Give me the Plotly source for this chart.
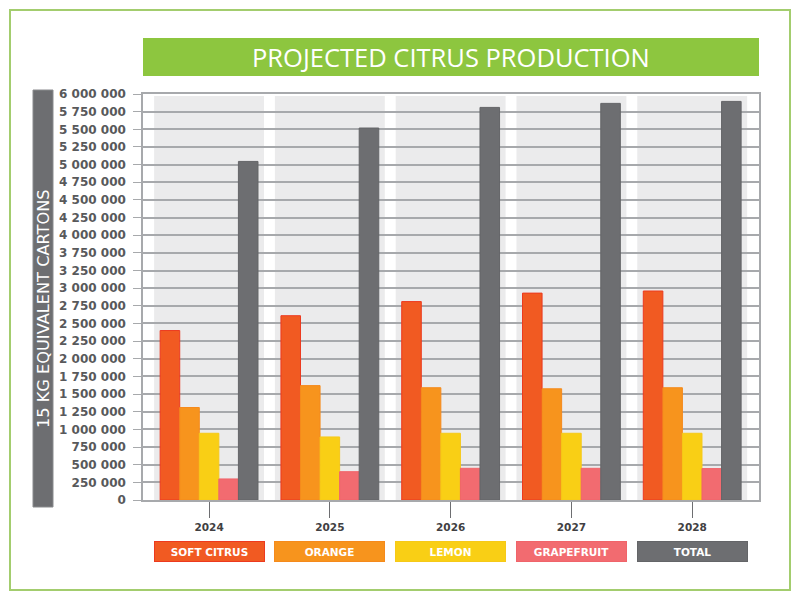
import plotly.graph_objects as go

# data (heights in the chart's own linear grid units)
years = ["2024", "2025", "2026", "2027", "2028"]
soft_citrus = [2400000, 2610000, 2810000, 2930000, 2960000]
orange = [1310000, 1620000, 1590000, 1575000, 1590000]
lemon = [945000, 893000, 945000, 945000, 945000]
grapefruit = [298000, 401000, 449000, 449000, 445000]
total = [4795000, 5268000, 5560000, 5617000, 5645000]

series_names = ["SOFT CITRUS", "ORANGE", "LEMON", "GRAPEFRUIT", "TOTAL"]
series_colors = ["#f15a22", "#f7941d", "#f9cf15", "#f26b70", "#6d6e71"]
series_lines = ["#ec3a1f", "#f58a1c", "#f6c918", "#f0646a", "#646568"]

# the printed axis labels (the source skips 3 500 000)
y_tick_text = ["0", "250 000", "500 000", "750 000", "1 000 000", "1 250 000",
               "1 500 000", "1 750 000", "2 000 000", "2 250 000", "2 500 000",
               "2 750 000", "3 000 000", "3 250 000", "3 750 000", "4 000 000",
               "4 250 000", "4 500 000", "4 750 000", "5 000 000", "5 250 000",
               "5 500 000", "5 750 000", "6 000 000"]
y_tick_vals = [i * 250000 for i in range(len(y_tick_text))]

title_text = "PROJECTED CITRUS PRODUCTION"
y_title = "15 KG EQUIVALENT CARTONS"

# plot area in pixels
PL, PR, PT, PB = 143, 759, 94, 500


def px_x(px):
    return (px - PL) / (PR - PL)


def px_y(py):
    return (PB - py) / (PB - PT)


fig = go.Figure()
all_vals = [soft_citrus, orange, lemon, grapefruit, total]
for name, vals, col, lcol in zip(series_names, all_vals, series_colors, series_lines):
    fig.add_trace(go.Bar(
        x=years, y=vals, name=name,
        marker=dict(color=col, line=dict(color=lcol, width=1)),
        showlegend=False,
    ))

shapes = []
annotations = []
# light grey category bands
for i in range(len(years)):
    shapes.append(dict(type="rect", xref="x", yref="paper", x0=i - 0.455, x1=i + 0.455,
                       y0=0, y1=0.995, fillcolor="#ebebec", line_width=0, layer="below"))
    # dot at the end of each x tick
    shapes.append(dict(type="circle", xref="x", yref="y", xsizemode="pixel", ysizemode="pixel",
                       xanchor=i, yanchor=0, x0=-2.5, x1=2.5, y0=-19, y1=-14,
                       fillcolor="#58595b", line_width=0))
    # legend boxes under each year
    annotations.append(dict(xref="x", yref="paper", x=i, y=px_y(551.5), text="<b>%s</b>" % series_names[i],
                            showarrow=False, width=109, height=19, bgcolor=series_colors[i],
                            bordercolor=series_lines[i], borderwidth=1, borderpad=0,
                            font=dict(family="DejaVu Sans", size=10.5, color="white"),
                            xanchor="center", yanchor="middle"))

# title banner
shapes.append(dict(type="rect", xref="paper", yref="paper", x0=px_x(143), x1=px_x(759),
                   y0=px_y(76), y1=px_y(38), fillcolor="#8dc63f", line_width=0))
annotations.append(dict(xref="paper", yref="paper", x=px_x(451), y=px_y(57), text=title_text,
                        showarrow=False, xanchor="center", yanchor="middle",
                        font=dict(family="Open Sans", size=25.5, color="white")))

# y axis title box
shapes.append(dict(type="rect", xref="paper", yref="paper", x0=px_x(33), x1=px_x(53),
                   y0=px_y(507), y1=px_y(90), fillcolor="#6d6e71", line=dict(color="#8a8b8e", width=1)))
annotations.append(dict(xref="paper", yref="paper", x=px_x(43), y=px_y(309), text=y_title,
                        showarrow=False, textangle=-90, xanchor="center", yanchor="middle",
                        font=dict(family="DejaVu Sans", size=16.2, color="white")))

# outer green frame
shapes.append(dict(type="rect", xref="paper", yref="paper", x0=px_x(10), x1=px_x(790),
                   y0=px_y(590), y1=px_y(10), line=dict(color="#a3cd6e", width=2), fillcolor="rgba(0,0,0,0)"))

fig.update_layout(
    width=800, height=600,
    margin=dict(l=PL, r=800 - PR, t=PT, b=600 - PB),
    paper_bgcolor="white", plot_bgcolor="white",
    barmode="group", bargap=0.19, bargroupgap=0,
    shapes=shapes, annotations=annotations,
    xaxis=dict(type="category", range=[-0.547, 4.553], showgrid=False, showline=True,
               linecolor="#a7a9ac", linewidth=2,
               mirror=True, ticks="outside", ticklen=16, tickcolor="#6d6e71", tickwidth=1,
               tickfont=dict(family="DejaVu Sans", size=10.5, color="#414042", weight="bold")),
    yaxis=dict(range=[0, 5750000], tickvals=y_tick_vals, ticktext=y_tick_text,
               showgrid=True, gridcolor="#a7a9ac", gridwidth=1.5, zeroline=False,
               showline=True, linecolor="#a7a9ac", linewidth=1.5, mirror=True,
               ticks="outside", ticklen=8, tickcolor="#a7a9ac", ticklabelstandoff=5,
               tickfont=dict(family="DejaVu Sans", size=12, color="#58595b", weight="bold")),
)

fig.write_html("out.html", config={"displayModeBar": False},
               post_script="document.body.style.margin='0';")
